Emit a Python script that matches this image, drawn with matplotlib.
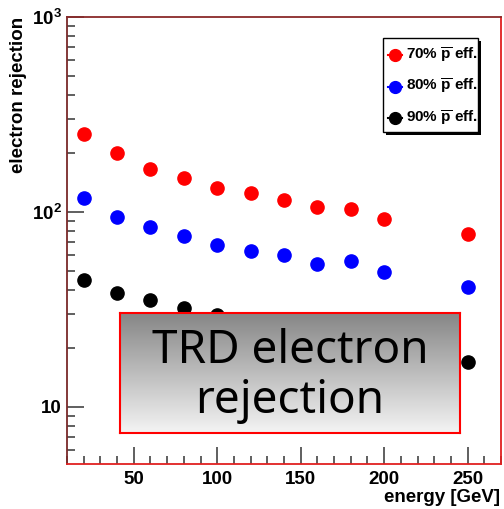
"""
TRD electron rejection vs. energy, ROOT-style log plot with a gradient title box.
"""

import matplotlib
matplotlib.use("Agg")
import matplotlib.pyplot as plt
import matplotlib.ticker as ticker
from matplotlib.patches import Rectangle
from matplotlib.lines import Line2D
import numpy as np

plt.rcParams["font.family"] = ["Liberation Sans", "DejaVu Sans"]
plt.rcParams["mathtext.fontset"] = "custom"
plt.rcParams["mathtext.rm"] = "Liberation Sans"
plt.rcParams["mathtext.bf"] = "Liberation Sans:bold"

# data
energy = [20, 40, 60, 80, 100, 120, 140, 160, 180, 200, 250]
rej_70 = [251, 201, 166, 149, 133, 125, 115, 106, 104, 92, 77]
rej_80 = [118, 94, 84, 75, 68, 63, 60, 54, 56, 49, 41]
rej_90 = [45, 38.5, 35.4, 32.2, 29.6, 28, 26, 24, 23, 21, 17]

series = [
    ("70% $\\mathbf{\\overline{p}}$ eff.", rej_70, "#ff0000"),
    ("80% $\\mathbf{\\overline{p}}$ eff.", rej_80, "#0000ff"),
    ("90% $\\mathbf{\\overline{p}}$ eff.", rej_90, "#000000"),
]

W, H = 504, 509


def fx(px):
    return px / W


def fy(py):
    return 1 - py / H


def main():
    fig = plt.figure(figsize=(W / 100, H / 100), dpi=100)
    ax = fig.add_axes([fx(67), fy(464), fx(501) - fx(67), fy(17) - fy(464)])

    for label, vals, col in series:
        ax.plot(energy, vals, "o", color=col, markersize=9.5, zorder=3)

    ax.set_yscale("log")
    ax.set_xlim(10, 270)
    ax.set_ylim(5.1, 1000)

    ax.xaxis.set_major_locator(ticker.MultipleLocator(50))
    ax.xaxis.set_minor_locator(ticker.MultipleLocator(10))
    ax.yaxis.set_major_locator(ticker.LogLocator(base=10))
    ax.yaxis.set_minor_locator(ticker.LogLocator(base=10, subs=np.arange(2, 10)))
    ax.yaxis.set_minor_formatter(ticker.NullFormatter())
    ax.yaxis.set_major_formatter(ticker.FuncFormatter(
        lambda v, _: "10" if abs(v - 10) < 1e-6
        else "$\\mathbf{10^{%d}}$" % round(np.log10(v))))

    ax.tick_params(which="both", direction="in", color="#444444", width=1.2)
    ax.tick_params(which="major", length=12, labelsize=13.5)
    ax.tick_params(which="minor", length=6)
    ax.tick_params(axis="x", pad=5)
    ax.tick_params(axis="y", pad=4)
    for lab in ax.get_xticklabels() + ax.get_yticklabels():
        lab.set_fontweight("bold")

    ax.spines["left"].set_color("#7a2a2a")
    ax.spines["top"].set_color("#8a2a2a")
    ax.spines["right"].set_color("#e02020")
    ax.spines["bottom"].set_color("#e02020")
    for s in ax.spines.values():
        s.set_linewidth(1.3)

    fig.text(fx(19), fy(17), "electron rejection", rotation=90,
             ha="center", va="top", fontsize=13.5, fontweight="bold")
    fig.text(fx(500), fy(498), "energy [GeV]", ha="right", va="center",
             fontsize=13.5, fontweight="bold")

    # legend, drawn by hand in ROOT style
    lx0, ly0, lx1, ly1 = 383, 38, 478, 132
    fig.add_artist(Rectangle((fx(lx0 + 3), fy(ly1 + 3)), fx(lx1 - lx0), fy(ly0) - fy(ly1),
                             transform=fig.transFigure, facecolor="black",
                             edgecolor="none", zorder=5))
    fig.add_artist(Rectangle((fx(lx0), fy(ly1)), fx(lx1 - lx0), fy(ly0) - fy(ly1),
                             transform=fig.transFigure, facecolor="white",
                             edgecolor="black", linewidth=1.0, zorder=6))
    for i, (label, vals, col) in enumerate(series):
        yy = 55 + i * 31.5
        fig.add_artist(Line2D([fx(388), fx(402)], [fy(yy), fy(yy)], color=col,
                              linewidth=1.5, marker=None, transform=fig.transFigure,
                              zorder=7))
        fig.add_artist(Line2D([fx(395)], [fy(yy)], color=col, marker="o",
                              markersize=8.5, linestyle="none",
                              transform=fig.transFigure, zorder=7))
        fig.text(fx(406), fy(yy), label, ha="left", va="center",
                 fontsize=11, fontweight="bold", zorder=8)

    # gradient title box
    bx = fig.add_axes([fx(120), fy(433), fx(460) - fx(120), fy(313) - fy(433)])
    grad = np.linspace(0, 1, 256).reshape(-1, 1)
    bx.imshow(grad, cmap=matplotlib.colors.LinearSegmentedColormap.from_list(
        "g", ["#868686", "#f4f4f4"]), aspect="auto", extent=[0, 1, 0, 1])
    bx.set_xticks([])
    bx.set_yticks([])
    for s in bx.spines.values():
        s.set_color("#ff0000")
        s.set_linewidth(1.5)
    bx.text(0.5, 0.583, "TRD electron", ha="center", va="baseline",
            fontsize=33, family="Noto Sans", transform=bx.transAxes)
    bx.text(0.5, 0.167, "rejection", ha="center", va="baseline",
            fontsize=33, family="Noto Sans", transform=bx.transAxes)

    fig.savefig("out.png", dpi=100)
    plt.close(fig)


if __name__ == "__main__":
    main()
